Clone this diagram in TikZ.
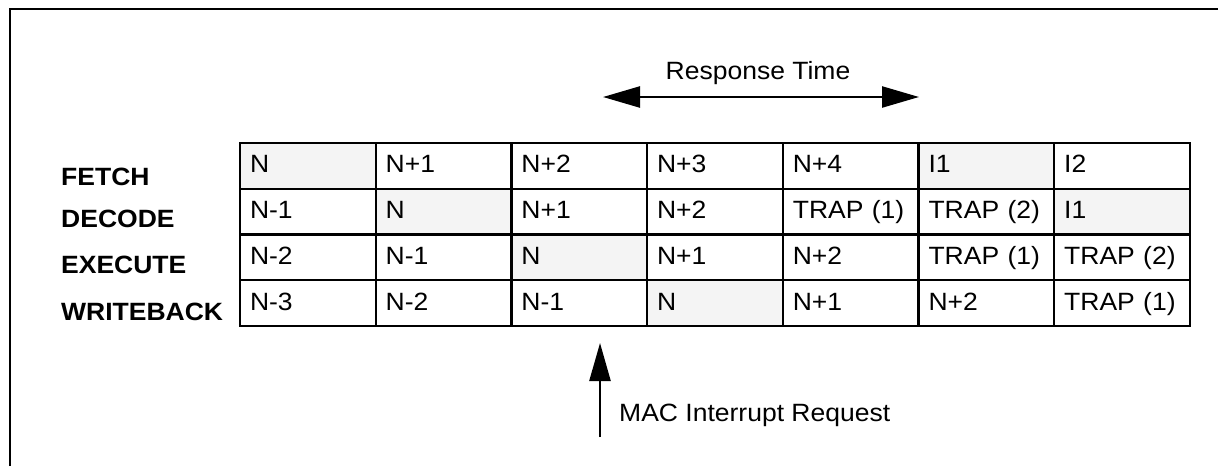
\documentclass[tikz,border=0pt]{standalone}
\usepackage{fontspec}
\setmainfont{Liberation Sans}[FakeStretch=1.06]
\usepackage{tikz}
\usetikzlibrary{arrows.meta, positioning}
\definecolor{slotgray}{HTML}{F4F4F4}

\begin{document}
\begin{tikzpicture} [x=1pt, y=-1pt, node distance = 45.75pt and 135.7pt, on grid,
        font=\fontsize{25}{29}\selectfont,
        cell/.style={draw, line width=2.4pt, text width=115.7pt, inner xsep=10pt,
            minimum height=45.75pt, text height=19pt, text depth=5pt, align=left},
        slot/.style={cell, fill=slotgray},
        stage/.style={anchor=base west, inner sep=0pt, font=\fontsize{25}{29}\selectfont\bfseries}]
        \useasboundingbox (0,0) rectangle (1218,466);
        \draw [line width=2.4pt] (10,466) -- (10,9) -- (1218,9);

        \node (fetch) [stage] at (61,185) {FETCH};
        \node (decode) [stage] at (61,227) {DECODE};
        \node (execute) [stage] at (61,273) {EXECUTE};
        \node (writeback) [stage] at (61,320) {WRITEBACK};

        \node (f0) [slot] at (307.85,165.9) {N};
        \node (f1) [cell, right = of f0] {N+1};
        \node (f2) [cell, right = of f1] {N+2};
        \node (f3) [cell, right = of f2] {N+3};
        \node (f4) [cell, right = of f3] {N+4};
        \node (f5) [slot, right = of f4] {I1};
        \node (f6) [cell, right = of f5] {I2};

        \node (d0) [cell, below = of f0] {N-1};
        \node (d1) [slot, right = of d0] {N};
        \node (d2) [cell, right = of d1] {N+1};
        \node (d3) [cell, right = of d2] {N+2};
        \node (d4) [cell, right = of d3] {TRAP (1)};
        \node (d5) [cell, right = of d4] {TRAP (2)};
        \node (d6) [slot, right = of d5] {I1};

        \node (e0) [cell, below = of d0] {N-2};
        \node (e1) [cell, right = of e0] {N-1};
        \node (e2) [slot, right = of e1] {N};
        \node (e3) [cell, right = of e2] {N+1};
        \node (e4) [cell, right = of e3] {N+2};
        \node (e5) [cell, right = of e4] {TRAP (1)};
        \node (e6) [cell, right = of e5] {TRAP (2)};

        \node (w0) [cell, below = of e0] {N-3};
        \node (w1) [cell, right = of w0] {N-2};
        \node (w2) [cell, right = of w1] {N-1};
        \node (w3) [slot, right = of w2] {N};
        \node (w4) [cell, right = of w3] {N+1};
        \node (w5) [cell, right = of w4] {N+2};
        \node (w6) [cell, right = of w5] {TRAP (1)};

        % response time
        \coordinate (rtleft) at (603,97);
        \coordinate (rtright) at (919,97);
        \node (rtlabel) [anchor=base, inner sep=0pt] at (758,79) {Response Time};
        \draw [{Triangle[length=37pt,width=21pt]}-{Triangle[length=37pt,width=21pt]}, line width=2.4pt] (rtleft) -- (rtright);

        % interrupt request
        \coordinate (irqfoot) at (600,437);
        \coordinate (irqtip) at (600,343);
        \node (irqlabel) [anchor=base west, inner sep=0pt] at (619,421) {MAC Interrupt Request};
        \draw [-{Triangle[length=38pt,width=21pt]}, line width=2.4pt] (irqfoot) -- (irqtip);
    \end{tikzpicture}
\end{document}
